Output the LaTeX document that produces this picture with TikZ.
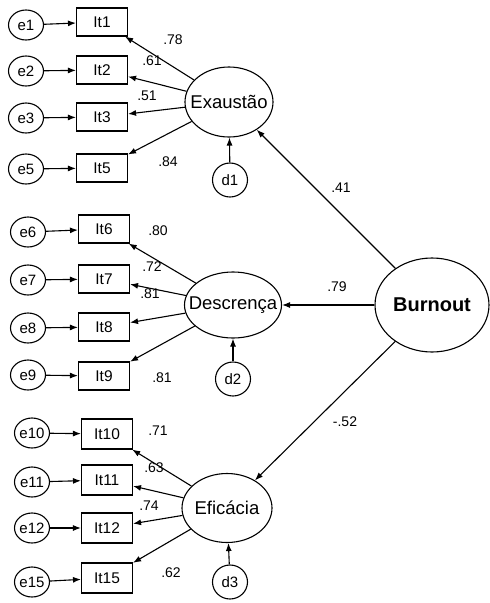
\documentclass[tikz,border=0pt]{standalone}
\usepackage{fontspec}
\setmainfont{Liberation Sans}
\usetikzlibrary{arrows.meta,shapes.geometric}
\begin{document}
\begin{tikzpicture}[x=1pt,y=-1pt,
  every path/.style={line width=1.1pt},
  item/.style={draw,rectangle,minimum width=51pt,minimum height=28pt,inner sep=0pt,font=\fontsize{15.5}{15}\selectfont},
  err/.style={draw,ellipse,minimum width=35pt,minimum height=30pt,inner sep=0pt},
  errtxt/.style={font=\fontsize{15}{15}\selectfont,inner sep=0pt},
  lat/.style={draw,ellipse,inner sep=0pt},
  lattxt/.style={font=\fontsize{18.5}{18}\selectfont,inner sep=0pt},
  coef/.style={font=\fontsize{14}{14}\selectfont,inner sep=0pt},
  arr/.style={-{Latex[length=8pt,width=6pt]}}
]
\useasboundingbox (0,0) rectangle (490,603);
% group 1
\node[item] (It1) at (102,22) {It1};
\node[item] (It2) at (102,70) {It2};
\node[item] (It3) at (102,117) {It3};
\node[item] (It5) at (102,168) {It5};
\node[err,label={[errtxt]center:e1}] (e1) at (26,25) {};
\node[err,label={[errtxt]center:e2}] (e2) at (26,71) {};
\node[err,label={[errtxt]center:e3}] (e3) at (26,118) {};
\node[err,label={[errtxt]center:e5}] (e5) at (26,169) {};
\node[lat,minimum width=88pt,minimum height=70pt,label={[lattxt]center:Exaustão}] (Ex) at (229,102) {};
\node[err,minimum width=35pt,minimum height=34pt,label={[errtxt]center:d1}] (d1) at (230,180) {};
% group 2
\node[item] (It6) at (104,229) {It6};
\node[item] (It7) at (104,279) {It7};
\node[item] (It8) at (104,327) {It8};
\node[item] (It9) at (104,376) {It9};
\node[err,label={[errtxt]center:e6}] (e6) at (28,232) {};
\node[err,label={[errtxt]center:e7}] (e7) at (28,280) {};
\node[err,label={[errtxt]center:e8}] (e8) at (28,328) {};
\node[err,label={[errtxt]center:e9}] (e9) at (28,375) {};
\node[lat,minimum width=97pt,minimum height=66pt,label={[lattxt]center:Descrença}] (De) at (233,305) {};
\node[err,minimum width=35pt,minimum height=34pt,label={[errtxt]center:d2}] (d2) at (233,379) {};
% group 3
\node[item,minimum height=30pt] (It10) at (107,434) {It10};
\node[item,minimum height=30pt] (It11) at (107,480) {It11};
\node[item,minimum height=30pt] (It12) at (107,528) {It12};
\node[item,minimum height=30pt] (It15) at (107,578) {It15};
\node[err,label={[errtxt]center:e10}] (e10) at (32,433) {};
\node[err,label={[errtxt]center:e11}] (e11) at (32,482) {};
\node[err,label={[errtxt]center:e12}] (e12) at (32,528) {};
\node[err,label={[errtxt]center:e15}] (e15) at (32,582) {};
\node[lat,minimum width=90pt,minimum height=69pt,label={[lattxt]center:Eficácia}] (Ef) at (227,508) {};
\node[err,minimum width=35pt,minimum height=34pt,label={[errtxt]center:d3}] (d3) at (230,582) {};
% Burnout
\node[lat,minimum width=114pt,minimum height=94pt,label={[lattxt,font=\fontsize{20}{20}\selectfont\bfseries]center:Burnout}] (B) at (432,305) {};
% error arrows
\foreach \e/\i in {e1/It1,e2/It2,e3/It3,e5/It5,e6/It6,e7/It7,e8/It8,e9/It9,e10/It10,e11/It11,e12/It12,e15/It15}
  \draw[arr] (\e) -- (\i);
\foreach \d/\l in {d1/Ex,d2/De,d3/Ef}
  \draw[arr] (\d) -- (\l);
% loadings
\foreach \i in {It1,It2,It3,It5} \draw[arr] (Ex) -- (\i);
\foreach \i in {It6,It7,It8,It9} \draw[arr] (De) -- (\i);
\foreach \i in {It10,It11,It12,It15} \draw[arr] (Ef) -- (\i);
\draw[arr] (B) -- (Ex);
\draw[arr] (B) -- (De);
\draw[arr] (B) -- (Ef);
% coefficients
\node[coef] (c1) at (173,40) {.78};
\node[coef] (c2) at (152,61) {.61};
\node[coef] (c3) at (147,96) {.51};
\node[coef] (c5) at (168,162) {.84};
\node[coef] (c6) at (158,231) {.80};
\node[coef] (c7) at (152,267) {.72};
\node[coef] (c8) at (150,294) {.81};
\node[coef] (c9) at (162,378) {.81};
\node[coef] (c10) at (158,431) {.71};
\node[coef] (c11) at (154,468) {.63};
\node[coef] (c12) at (149,506) {.74};
\node[coef] (c15) at (171,573) {.62};
\node[coef] (bEx) at (341,188) {.41};
\node[coef] (bDe) at (337,287) {.79};
\node[coef] (bEf) at (345,422) {-.52};
\end{tikzpicture}
\end{document}
